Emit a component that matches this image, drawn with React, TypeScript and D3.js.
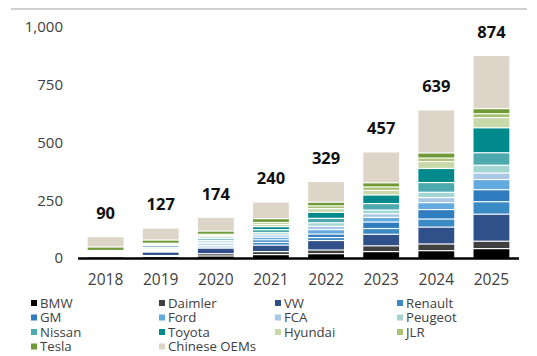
import React from "react";
import * as d3 from "d3";

const years = ["2018", "2019", "2020", "2021", "2022", "2023", "2024", "2025"];
const totals = [90, 127, 174, 240, 329, 457, 639, 874];
const oems = ["BMW", "Daimler", "VW", "Renault", "GM", "Ford", "FCA", "Peugeot", "Nissan", "Toyota", "Hyundai", "JLR", "Tesla", "Chinese OEMs"];
const colors = ["#000000", "#404040", "#30508a", "#3a8ac6", "#2f7dc0", "#62aae0", "#a9c8e6", "#a3d6d2", "#4ca9ae", "#008a8c", "#c7d8a9", "#a8c272", "#6f9a36", "#ddd6c8"];

const bmw = [2, 3, 6, 12, 16, 25, 29, 38];
const daimler = [3, 5, 10, 13, 16, 25, 29, 32];
const vw = [5, 15, 24, 28, 41, 50, 73, 117];
const renault = [2, 3, 6, 12, 13, 25, 35, 54];
const gm = [2, 3, 6, 11, 15, 28, 41, 52];
const ford = [2, 4, 7, 11, 19, 20, 30, 44];
const fca = [2, 4, 7, 10, 15, 16, 22, 28];
const peugeot = [2, 6, 8, 10, 15, 16, 23, 34];
const nissan = [3, 8, 8, 13, 19, 28, 42, 54];
const toyota = [3, 4, 6, 13, 26, 37, 61, 108];
const hyundai = [2, 3, 6, 10, 16, 20, 30, 44];
const jlr = [2, 3, 6, 8, 12, 15, 15, 17];
const tesla = [15, 14, 14, 17, 16, 18, 22, 22];
const chinese = [45, 52, 60, 72, 90, 134, 187, 230];

const seriesValues = [bmw, daimler, vw, renault, gm, ford, fca, peugeot, nissan, toyota, hyundai, jlr, tesla, chinese];
const yTicks = [0, 250, 500, 750, 1000];

const W = 537;
const H = 356;

export default function App() {
  const rows = years.map((yr, i) => {
    const r: Record<string, any> = { year: yr };
    oems.forEach((o, k) => (r[o] = seriesValues[k][i]));
    return r;
  });
  const stack = d3.stack<any>().keys(oems)(rows);
  const x = d3.scaleBand<string>().domain(years).range([78, 519]).paddingInner(0.35).paddingOuter(0.175);
  const y = d3.scaleLinear().domain([0, 1000]).range([258, 27]);
  const font = "'Open Sans', 'DejaVu Sans', sans-serif";
  const legendCols = [31, 159, 275, 397];
  const legendRows = [303, 317.5, 332, 346.5];

  return (
    <svg width={W} height={H} style={{ position: "absolute", left: 0, top: 0, background: "#fff" }} fontFamily={font}>
      <line x1={11} x2={527} y1={9} y2={9} stroke="#d0d0d0" strokeWidth={2} />
      {yTicks.map((t) => (
        <text key={t} x={63} y={y(t)} dy="0.35em" textAnchor="end" fontSize={15} fill="#404040">
          {d3.format(",")(t)}
        </text>
      ))}
      {stack.map((s, k) => (
        <g key={s.key} fill={colors[k]}>
          {s.map((d, i) => {
            const top = y(d[1]);
            const h = y(d[0]) - y(d[1]) - (k === 0 ? 0 : 1.2);
            return h > 0 ? (
              <rect key={i} x={x(years[i])} width={x.bandwidth()} y={top} height={h} />
            ) : null;
          })}
        </g>
      ))}
      <line x1={78} x2={519} y1={258.5} y2={258.5} stroke="#000" strokeWidth={2.5} />
      {years.map((yr, i) => (
        <g key={yr}>
          <text x={(x(yr) as number) + x.bandwidth() / 2} y={280} dy="0.35em" textAnchor="middle" fontSize={15.5} fill="#404040">
            {yr}
          </text>
          <text x={(x(yr) as number) + x.bandwidth() / 2} y={y(totals[i]) - 24} dy="0.35em" textAnchor="middle" fontSize={16.5} fontWeight={700} fill="#111">
            {totals[i]}
          </text>
        </g>
      ))}
      {oems.map((o, k) => {
        const cx = legendCols[k % 4];
        const cy = legendRows[Math.floor(k / 4)];
        return (
          <g key={o}>
            <rect x={cx} y={cy - 3} width={6} height={6} fill={colors[k]} />
            <text x={cx + 9} y={cy} dy="0.35em" fontSize={13.2} fill="#404040">
              {o}
            </text>
          </g>
        );
      })}
    </svg>
  );
}
